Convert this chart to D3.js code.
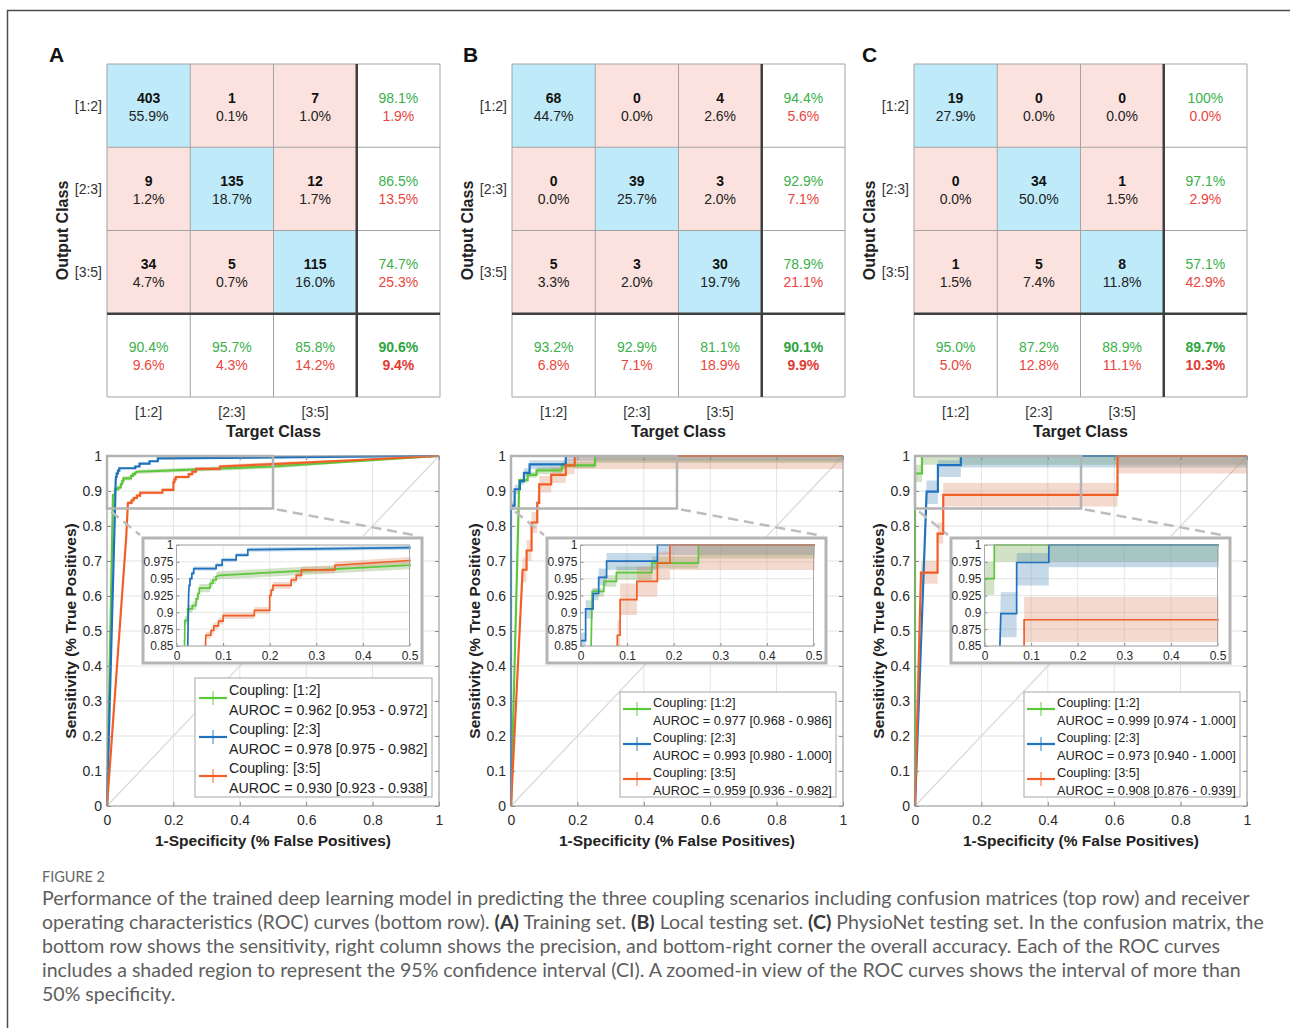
<!DOCTYPE html>
<html>
<head>
<meta charset="utf-8">
<title>Figure 2 – confusion matrices and ROC curves</title>
<script src="https://cdn.jsdelivr.net/npm/d3@7/dist/d3.min.js"></script>
<style>
  html, body { margin: 0; padding: 0; background: #fff; }
  svg { display: block; }
  .sans { font-family: "Liberation Sans", Arial, Helvetica, sans-serif; }
  .cap { font-family: Lato, "Open Sans", sans-serif; white-space: pre; }
</style>
</head>
<body>
<svg id="fig" width="1290" height="1028"></svg>
<script>
// ---------------- data ----------------
const classLabels = ["[1:2]", "[2:3]", "[3:5]"];
const seriesLabels = ["Coupling: [1:2]", "Coupling: [2:3]", "Coupling: [3:5]"];
const panelLetters = ["A", "B", "C"];

// confusion matrices: rows = output class, columns = target class
const cmTraining  = [[403, 1, 7], [9, 135, 12], [34, 5, 115]];
const cmLocal     = [[68, 0, 4], [0, 39, 3], [5, 3, 30]];
const cmPhysioNet = [[19, 0, 0], [0, 34, 1], [1, 5, 8]];

// area under ROC with its 95% CI, one entry per coupling
const aucTraining    = [0.962, 0.978, 0.930];
const aucCiTraining  = [[0.953, 0.972], [0.975, 0.982], [0.923, 0.938]];
const aucLocal       = [0.977, 0.993, 0.959];
const aucCiLocal     = [[0.968, 0.986], [0.980, 1.000], [0.936, 0.982]];
const aucPhysioNet   = [0.999, 0.973, 0.908];
const aucCiPhysioNet = [[0.974, 1.000], [0.940, 1.000], [0.876, 0.939]];

// ROC vertices: [FPR, TPR, CI low, CI high]
const rocTraining12 = [
  [0, 0, 0, 0], [0.018, 0.888, 0.882, 0.894], [0.024, 0.888, 0.882, 0.894],
  [0.024, 0.905, 0.899, 0.911], [0.034, 0.905, 0.899, 0.911], [0.034, 0.910, 0.904, 0.916],
  [0.042, 0.910, 0.904, 0.916], [0.042, 0.920, 0.914, 0.926], [0.046, 0.920, 0.914, 0.926],
  [0.046, 0.928, 0.922, 0.934], [0.049, 0.928, 0.922, 0.934], [0.049, 0.936, 0.930, 0.942],
  [0.072, 0.936, 0.930, 0.942], [0.072, 0.943, 0.937, 0.949], [0.078, 0.943, 0.937, 0.949],
  [0.078, 0.948, 0.942, 0.954], [0.085, 0.948, 0.942, 0.954], [0.085, 0.953, 0.947, 0.959],
  [0.092, 0.955, 0.949, 0.961], [0.5, 0.970, 0.964, 0.976], [1, 1, 1, 1]
];
const rocTraining23 = [
  [0, 0, 0, 0], [0.025, 0.880, 0.877, 0.883], [0.026, 0.926, 0.923, 0.929],
  [0.027, 0.940, 0.937, 0.943], [0.029, 0.940, 0.937, 0.943], [0.029, 0.950, 0.947, 0.953],
  [0.033, 0.950, 0.947, 0.953], [0.033, 0.958, 0.955, 0.961], [0.037, 0.958, 0.955, 0.961],
  [0.037, 0.965, 0.962, 0.968], [0.085, 0.965, 0.962, 0.968], [0.085, 0.970, 0.967, 0.973],
  [0.098, 0.970, 0.967, 0.973], [0.098, 0.978, 0.975, 0.981], [0.128, 0.978, 0.975, 0.981],
  [0.128, 0.985, 0.982, 0.988], [0.153, 0.985, 0.982, 0.988], [0.153, 0.993, 0.990, 0.996],
  [0.5, 0.996, 0.993, 0.999], [1, 1, 1, 1]
];
const rocTraining35 = [
  [0, 0, 0, 0], [0.058, 0.770, 0.765, 0.775], [0.063, 0.866, 0.861, 0.871],
  [0.074, 0.866, 0.861, 0.871], [0.074, 0.873, 0.868, 0.878], [0.080, 0.873, 0.868, 0.878],
  [0.080, 0.880, 0.875, 0.885], [0.090, 0.880, 0.875, 0.885], [0.090, 0.887, 0.882, 0.892],
  [0.100, 0.887, 0.882, 0.892], [0.100, 0.895, 0.890, 0.900], [0.167, 0.895, 0.890, 0.900],
  [0.167, 0.903, 0.898, 0.908], [0.200, 0.903, 0.898, 0.908], [0.200, 0.925, 0.920, 0.930],
  [0.203, 0.925, 0.920, 0.930], [0.203, 0.933, 0.928, 0.938], [0.207, 0.933, 0.928, 0.938],
  [0.207, 0.940, 0.935, 0.945], [0.246, 0.940, 0.935, 0.945], [0.246, 0.948, 0.943, 0.953],
  [0.257, 0.948, 0.943, 0.953], [0.257, 0.955, 0.950, 0.960], [0.268, 0.955, 0.950, 0.960],
  [0.268, 0.963, 0.958, 0.968], [0.340, 0.963, 0.958, 0.968], [0.340, 0.970, 0.965, 0.975],
  [0.5, 0.977, 0.972, 0.982], [1, 1, 1, 1]
];

const rocLocal12 = [
  [0, 0, 0, 0], [0.025, 0.931, 0.923, 0.936], [0.050, 0.931, 0.923, 0.936],
  [0.050, 0.946, 0.938, 0.955], [0.077, 0.946, 0.938, 0.955], [0.077, 0.959, 0.948, 0.968],
  [0.153, 0.959, 0.948, 0.968], [0.153, 0.973, 0.965, 0.983], [0.253, 0.973, 0.965, 0.983],
  [0.253, 1, 0.980, 1], [1, 1, 0.980, 1]
];
const rocLocal23 = [
  [0, 0, 0, 0], [0, 0.858, 0.845, 0.870], [0.011, 0.858, 0.845, 0.870],
  [0.011, 0.905, 0.891, 0.918], [0.027, 0.905, 0.891, 0.918], [0.027, 0.928, 0.918, 0.935],
  [0.039, 0.928, 0.918, 0.935], [0.039, 0.952, 0.940, 0.965], [0.056, 0.952, 0.940, 0.965],
  [0.056, 0.976, 0.963, 0.988], [0.165, 0.976, 0.963, 0.988], [0.165, 1, 0.985, 1], [1, 1, 0.985, 1]
];
const rocLocal35 = [
  [0, 0, 0, 0], [0.035, 0.675, 0.640, 0.710], [0.047, 0.675, 0.640, 0.710],
  [0.047, 0.730, 0.700, 0.760], [0.062, 0.730, 0.700, 0.760], [0.062, 0.810, 0.780, 0.840],
  [0.079, 0.810, 0.780, 0.840], [0.079, 0.866, 0.845, 0.888], [0.085, 0.866, 0.845, 0.888],
  [0.085, 0.919, 0.896, 0.943], [0.121, 0.919, 0.896, 0.943], [0.121, 0.946, 0.923, 0.968],
  [0.165, 0.946, 0.923, 0.968], [0.165, 0.973, 0.948, 0.990], [0.192, 0.973, 0.948, 0.990],
  [0.192, 1, 0.963, 1], [1, 1, 0.963, 1]
];

const rocPhysioNet12 = [
  [0, 0, 0, 0], [0, 0.950, 0.926, 0.975], [0.021, 0.950, 0.926, 0.975],
  [0.021, 1, 0.975, 1], [1, 1, 0.975, 1]
];
const rocPhysioNet23 = [
  [0, 0, 0, 0], [0.035, 0.898, 0.863, 0.930], [0.069, 0.898, 0.863, 0.930],
  [0.069, 0.974, 0.940, 0.988], [0.138, 0.974, 0.940, 0.988], [0.138, 1, 0.967, 1], [1, 1, 0.967, 1]
];
const rocPhysioNet35 = [
  [0, 0, 0, 0], [0.018, 0.667, 0.635, 0.700], [0.068, 0.667, 0.635, 0.700],
  [0.068, 0.778, 0.750, 0.810], [0.085, 0.778, 0.750, 0.810], [0.085, 0.889, 0.856, 0.923],
  [0.610, 0.889, 0.856, 0.923], [0.610, 1, 0.950, 1], [1, 1, 0.950, 1]
];

// axis ticks
const mainXTicks  = [0, 0.2, 0.4, 0.6, 0.8, 1];
const mainYTicks  = [0, 0.1, 0.2, 0.3, 0.4, 0.5, 0.6, 0.7, 0.8, 0.9, 1];
const insetXTicks = [0, 0.1, 0.2, 0.3, 0.4, 0.5];
const insetYTicks = [0.85, 0.875, 0.9, 0.925, 0.95, 0.975, 1];
const insetXDomain = [0, 0.5];
const insetYDomain = [0.85, 1];

// caption
const figureLabel = "FIGURE 2";
const captionLines = [
  [["Performance of the trained deep learning model in predicting the three coupling scenarios including confusion matrices (top row) and receiver", false]],
  [["operating characteristics (ROC) curves (bottom row). ", false], ["(A)", true], [" Training set. ", false], ["(B)", true],
   [" Local testing set. ", false], ["(C)", true], [" PhysioNet testing set. In the confusion matrix, the", false]],
  [["bottom row shows the sensitivity, right column shows the precision, and bottom-right corner the overall accuracy. Each of the ROC curves", false]],
  [["includes a shaded region to represent the 95% confidence interval (CI). A zoomed-in view of the ROC curves shows the interval of more than", false]],
  [["50% specificity.", false]]
];

// ---------------- styles & layout ----------------
const lineColors = ["#5cc73a", "#1f72bd", "#f25e27"];
const bandColors = ["#74a650", "#4f89bb", "#db8866"];
const bandOpacity = 0.32;
const cellDiag = "#bfeaf9", cellOff = "#fbe2de";
const goodColor = "#3bb04b", badColor = "#e8453c";

const panels = [
  { cm: cmTraining,  mx: 107, rx: 107, roc: [rocTraining12, rocTraining23, rocTraining35],
    auc: aucTraining, aucCi: aucCiTraining, letterX: 49,
    legend: { left: 195, top: 678, w: 237, h: 119, font: 14.2, step: 39, l1: 17, l2: 37, ly: 20, lx0: 4, lx1: 32, tx: 34 } },
  { cm: cmLocal,     mx: 512, rx: 511, roc: [rocLocal12, rocLocal23, rocLocal35],
    auc: aucLocal, aucCi: aucCiLocal, letterX: 463,
    legend: { left: 620, top: 692, w: 216, h: 105, font: 12.8, step: 35, l1: 14.5, l2: 32.5, ly: 17, lx0: 3, lx1: 31, tx: 33 } },
  { cm: cmPhysioNet, mx: 914, rx: 915, roc: [rocPhysioNet12, rocPhysioNet23, rocPhysioNet35],
    auc: aucPhysioNet, aucCi: aucCiPhysioNet, letterX: 862,
    legend: { left: 1024, top: 692, w: 216, h: 105, font: 12.8, step: 35, l1: 14.5, l2: 32.5, ly: 17, lx0: 3, lx1: 31, tx: 33 } }
];

const svg = d3.select("#fig");
svg.append("rect").attr("width", 1290).attr("height", 1028).attr("fill", "#fff");
// figure frame (top and left rule)
svg.append("path").attr("d", "M7.5,1028 V10.5 H1290")
  .attr("fill", "none").attr("stroke", "#4d4d4d").attr("stroke-width", 1.5);

const root = svg.append("g").attr("class", "sans");
const fmtTick = d => String(+d.toFixed(3));
const fmtPct = v => (Math.abs(v - 100) < 1e-9 ? "100%" : v.toFixed(1) + "%");

// ---------------- confusion matrix ----------------
function drawMatrix(g, cm, x0) {
  const n = cm.length, size = 333, y0 = 64;
  const xs = d3.scaleBand().domain(d3.range(n + 1)).range([x0, x0 + size]);
  const ys = d3.scaleBand().domain(d3.range(n + 1)).range([y0, y0 + size]);
  const cs = xs.bandwidth();
  const total = d3.sum(cm.flat());
  const rowSum = cm.map(r => d3.sum(r));
  const colSum = d3.range(n).map(c => d3.sum(cm, r => r[c]));
  const hits = d3.sum(d3.range(n), i => cm[i][i]);

  const cells = [];
  for (let r = 0; r <= n; r++) for (let c = 0; c <= n; c++) {
    let fill = "#fff", top = "", bottom = "", topColor = "#111", botColor = "#222", bold = false, topBold = true;
    if (r < n && c < n) {
      fill = r === c ? cellDiag : cellOff;
      top = String(cm[r][c]);
      bottom = fmtPct(cm[r][c] / total * 100);
    } else if (r < n) {
      top = fmtPct(cm[r][r] / rowSum[r] * 100);
      bottom = fmtPct((rowSum[r] - cm[r][r]) / rowSum[r] * 100);
      topColor = goodColor; botColor = badColor; topBold = false;
    } else if (c < n) {
      top = fmtPct(cm[c][c] / colSum[c] * 100);
      bottom = fmtPct((colSum[c] - cm[c][c]) / colSum[c] * 100);
      topColor = goodColor; botColor = badColor; topBold = false;
    } else {
      top = fmtPct(hits / total * 100);
      bottom = fmtPct((total - hits) / total * 100);
      topColor = "#2ea540"; botColor = "#e03a32"; bold = true; topBold = true;
    }
    cells.push({ r, c, fill, top, bottom, topColor, botColor, bold, topBold });
  }

  g.append("g").selectAll("rect").data(cells).join("rect")
    .attr("x", d => xs(d.c)).attr("y", d => ys(d.r))
    .attr("width", cs).attr("height", cs).attr("fill", d => d.fill);

  // thin cell grid
  const grid = g.append("g").attr("stroke", "#a3a3a3").attr("stroke-width", 1);
  d3.range(n + 2).forEach(i => {
    const p = x0 + i * cs, q = y0 + i * cs;
    grid.append("line").attr("x1", p).attr("x2", p).attr("y1", y0).attr("y2", y0 + size);
    grid.append("line").attr("x1", x0).attr("x2", x0 + size).attr("y1", q).attr("y2", q);
  });
  // heavy separators before the summary row / column
  g.append("line").attr("x1", xs(n)).attr("x2", xs(n)).attr("y1", y0).attr("y2", y0 + size)
    .attr("stroke", "#3f3f3f").attr("stroke-width", 2.5);
  g.append("line").attr("x1", x0).attr("x2", x0 + size).attr("y1", ys(n)).attr("y2", ys(n))
    .attr("stroke", "#3f3f3f").attr("stroke-width", 2.5);

  const txt = g.append("g").attr("text-anchor", "middle").attr("font-size", 14);
  txt.selectAll("text.t").data(cells).join("text").attr("class", "t")
    .attr("x", d => xs(d.c) + cs / 2).attr("y", d => ys(d.r) + cs / 2 - 3)
    .attr("fill", d => d.topColor).attr("font-weight", d => d.topBold ? "bold" : "normal")
    .text(d => d.top);
  txt.selectAll("text.b").data(cells).join("text").attr("class", "b")
    .attr("x", d => xs(d.c) + cs / 2).attr("y", d => ys(d.r) + cs / 2 + 15)
    .attr("fill", d => d.botColor).attr("font-weight", d => d.bold ? "bold" : "normal")
    .text(d => d.bottom);

  // class labels
  g.append("g").attr("font-size", 14).attr("fill", "#333").attr("text-anchor", "end")
    .selectAll("text").data(classLabels).join("text")
    .attr("x", x0 - 5).attr("y", (d, i) => ys(i) + cs / 2 + 5).text(d => d);
  g.append("g").attr("font-size", 14).attr("fill", "#333").attr("text-anchor", "middle")
    .selectAll("text").data(classLabels).join("text")
    .attr("x", (d, i) => xs(i) + cs / 2).attr("y", 417).text(d => d);
  g.append("text").attr("x", x0 + size / 2).attr("y", 437).attr("text-anchor", "middle")
    .attr("font-size", 16).attr("font-weight", "bold").attr("fill", "#222").text("Target Class");
  g.append("text").attr("transform", `translate(${x0 - 45},${y0 + size / 2}) rotate(-90)`)
    .attr("text-anchor", "middle").attr("dy", "0.35em")
    .attr("font-size", 16).attr("font-weight", "bold").attr("fill", "#222").text("Output Class");
}

// ---------------- ROC ----------------
function styleAxis(sel, fs) {
  sel.attr("font-family", null).attr("font-size", fs);
  sel.select(".domain").remove();
  sel.selectAll(".tick line").attr("stroke", "#8a8a8a");
  sel.selectAll(".tick text").attr("fill", "#2a2a2a");
}

function drawCurves(g, series, x, y, width) {
  const area = d3.area().x(d => x(d[0])).y0(d => y(d[2])).y1(d => y(d[3]));
  const line = d3.line().x(d => x(d[0])).y(d => y(d[1]));
  series.forEach((s, i) => {
    g.append("path").attr("d", area(s)).attr("fill", bandColors[i]).attr("fill-opacity", bandOpacity);
  });
  series.forEach((s, i) => {
    g.append("path").attr("d", line(s)).attr("fill", "none")
      .attr("stroke", lineColors[i]).attr("stroke-width", width).attr("stroke-linejoin", "miter");
  });
}

function drawRoc(g, p, idx) {
  const x0 = p.rx, x1 = x0 + 332, yTop = 456, yBot = 806;
  const x = d3.scaleLinear().domain([0, 1]).range([x0, x1]);
  const y = d3.scaleLinear().domain([0, 1]).range([yBot, yTop]);

  const defs = g.append("defs");
  defs.append("clipPath").attr("id", "mainClip" + idx).append("rect")
    .attr("x", x0 - 1.5).attr("y", yTop - 1.5).attr("width", 335).attr("height", yBot - yTop + 3);

  g.append("rect").attr("x", x0).attr("y", yTop).attr("width", 332).attr("height", yBot - yTop).attr("fill", "#fff");
  const grid = g.append("g").attr("stroke", "#e3e3e3").attr("stroke-width", 1);
  grid.selectAll("line.h").data(mainYTicks).join("line").attr("class", "h")
    .attr("x1", x0).attr("x2", x1).attr("y1", d => y(d)).attr("y2", d => y(d));
  grid.selectAll("line.v").data(mainXTicks).join("line").attr("class", "v")
    .attr("y1", yTop).attr("y2", yBot).attr("x1", d => x(d)).attr("x2", d => x(d));
  g.append("line").attr("x1", x(0)).attr("y1", y(0)).attr("x2", x(1)).attr("y2", y(1))
    .attr("stroke", "#dadada").attr("stroke-width", 1.3);

  drawCurves(g.append("g").attr("clip-path", `url(#mainClip${idx})`), p.roc, x, y, 2.2);

  g.append("g").attr("transform", `translate(0,${yBot})`)
    .call(d3.axisBottom(x).tickValues(mainXTicks).tickFormat(fmtTick).tickSize(-4).tickPadding(9))
    .call(styleAxis, 14);
  g.append("g").attr("transform", `translate(0,${yTop})`)
    .call(d3.axisTop(x).tickValues(mainXTicks).tickFormat("").tickSize(-4)).call(styleAxis, 14);
  g.append("g").attr("transform", `translate(${x0},0)`)
    .call(d3.axisLeft(y).tickValues(mainYTicks).tickFormat(fmtTick).tickSize(-4).tickPadding(5))
    .call(styleAxis, 14);
  g.append("g").attr("transform", `translate(${x1},0)`)
    .call(d3.axisRight(y).tickValues(mainYTicks).tickFormat("").tickSize(-4)).call(styleAxis, 14);
  g.append("rect").attr("x", x0).attr("y", yTop).attr("width", 332).attr("height", yBot - yTop)
    .attr("fill", "none").attr("stroke", "#9a9a9a").attr("stroke-width", 1);

  g.append("text").attr("x", (x0 + x1) / 2).attr("y", 846).attr("text-anchor", "middle")
    .attr("font-size", 15.5).attr("font-weight", "bold").attr("fill", "#222")
    .text("1-Specificity (% False Positives)");
  g.append("text").attr("transform", `translate(${x0 - 36},${(yTop + yBot) / 2}) rotate(-90)`)
    .attr("text-anchor", "middle").attr("dy", "0.35em")
    .attr("font-size", 15.5).attr("font-weight", "bold").attr("fill", "#222")
    .text("Sensitivity (% True Positives)");

  // zoom window and its connectors
  const fx0 = x0 + 36, fx1 = x0 + 315, fy0 = 538, fy1 = 663;
  const conn = g.append("g").attr("stroke", "#bdbdbd").attr("stroke-width", 2.5).attr("stroke-dasharray", "10,6");
  conn.append("line").attr("x1", x(insetXDomain[0]) + 4).attr("y1", y(insetYDomain[0]) + 3).attr("x2", fx0 - 3).attr("y2", fy0 - 3);
  conn.append("line").attr("x1", x(insetXDomain[1]) + 4).attr("y1", y(insetYDomain[0]) + 1).attr("x2", fx1 - 3).attr("y2", fy0 - 2);
  g.append("rect").attr("x", x(insetXDomain[0])).attr("y", y(insetYDomain[1]))
    .attr("width", x(insetXDomain[1]) - x(insetXDomain[0])).attr("height", y(insetYDomain[0]) - y(insetYDomain[1]))
    .attr("fill", "none").attr("stroke", "#b3b3b3").attr("stroke-width", 2.5);

  // inset
  g.append("rect").attr("x", fx0).attr("y", fy0).attr("width", fx1 - fx0).attr("height", fy1 - fy0)
    .attr("fill", "#fff").attr("stroke", "#b5b5b5").attr("stroke-width", 3);
  const ix0 = x0 + 69.5, ix1 = x0 + 302.5, iyTop = 545, iyBot = 646;
  const xi = d3.scaleLinear().domain(insetXDomain).range([ix0, ix1]);
  const yi = d3.scaleLinear().domain(insetYDomain).range([iyBot, iyTop]);
  defs.append("clipPath").attr("id", "insetClip" + idx).append("rect")
    .attr("x", ix0).attr("y", iyTop - 1.2).attr("width", ix1 - ix0 + 1.2).attr("height", iyBot - iyTop + 1.2);
  const ig = g.append("g").attr("stroke", "#e6e6e6").attr("stroke-width", 1);
  ig.selectAll("line.h").data(insetYTicks).join("line").attr("class", "h")
    .attr("x1", ix0).attr("x2", ix1).attr("y1", d => yi(d)).attr("y2", d => yi(d));
  ig.selectAll("line.v").data(insetXTicks).join("line").attr("class", "v")
    .attr("y1", iyTop).attr("y2", iyBot).attr("x1", d => xi(d)).attr("x2", d => xi(d));
  drawCurves(g.append("g").attr("clip-path", `url(#insetClip${idx})`), p.roc, xi, yi, 1.7);
  g.append("g").attr("transform", `translate(0,${iyBot})`)
    .call(d3.axisBottom(xi).tickValues(insetXTicks).tickFormat(fmtTick).tickSize(-3).tickPadding(5))
    .call(styleAxis, 12);
  g.append("g").attr("transform", `translate(${ix0},0)`)
    .call(d3.axisLeft(yi).tickValues(insetYTicks).tickFormat(fmtTick).tickSize(-3).tickPadding(3))
    .call(styleAxis, 12);
  g.append("rect").attr("x", ix0).attr("y", iyTop).attr("width", ix1 - ix0).attr("height", iyBot - iyTop)
    .attr("fill", "none").attr("stroke", "#a8a8a8").attr("stroke-width", 1);

  // legend
  const L = p.legend;
  const lg = g.append("g").attr("transform", `translate(${L.left},${L.top})`);
  lg.append("rect").attr("width", L.w).attr("height", L.h).attr("fill", "#fff")
    .attr("stroke", "#a6a6a6").attr("stroke-width", 1);
  seriesLabels.forEach((label, i) => {
    const oy = i * L.step;
    lg.append("line").attr("x1", L.lx0).attr("x2", L.lx1).attr("y1", oy + L.ly).attr("y2", oy + L.ly)
      .attr("stroke", lineColors[i]).attr("stroke-width", 2.2);
    const mx = (L.lx0 + L.lx1) / 2;
    lg.append("line").attr("x1", mx).attr("x2", mx).attr("y1", oy + L.ly - 7).attr("y2", oy + L.ly + 7)
      .attr("stroke", lineColors[i]).attr("stroke-width", 1.3).attr("stroke-opacity", 0.7);
    lg.append("text").attr("x", L.tx).attr("y", oy + L.l1).attr("font-size", L.font).attr("fill", "#222").text(label);
    lg.append("text").attr("x", L.tx).attr("y", oy + L.l2).attr("font-size", L.font).attr("fill", "#222")
      .text(`AUROC = ${p.auc[i].toFixed(3)} [${p.aucCi[i][0].toFixed(3)} - ${p.aucCi[i][1].toFixed(3)}]`);
  });
}

panels.forEach((p, i) => {
  const g = root.append("g");
  g.append("text").attr("x", p.letterX).attr("y", 62).attr("font-size", 21).attr("font-weight", "bold")
    .attr("fill", "#111").text(panelLetters[i]);
  drawMatrix(g, p.cm, p.mx);
  drawRoc(g, p, i);
});

// ---------------- caption ----------------
const cap = svg.append("g").attr("class", "cap");
const figLab = cap.append("text").attr("x", 42).attr("y", 882).attr("font-size", 14)
  .attr("fill", "#666").text(figureLabel);
const fl = figLab.node().getComputedTextLength();
figLab.attr("font-size", 14 * 63 / fl);

const capTexts = captionLines.map((segs, li) => {
  const t = cap.append("text").attr("x", 42).attr("y", 905 + li * 24).attr("font-size", 17).attr("fill", "#5e5e5e");
  segs.forEach(([s, b]) => t.append("tspan").attr("font-weight", b ? "bold" : null)
    .attr("fill", b ? "#3a3a3a" : null).text(s));
  return t;
});
const w0 = capTexts[0].node().getComputedTextLength();
const capSize = 17 * 1208 / w0;
capTexts.forEach(t => t.attr("font-size", capSize));
</script>
</body>
</html>
